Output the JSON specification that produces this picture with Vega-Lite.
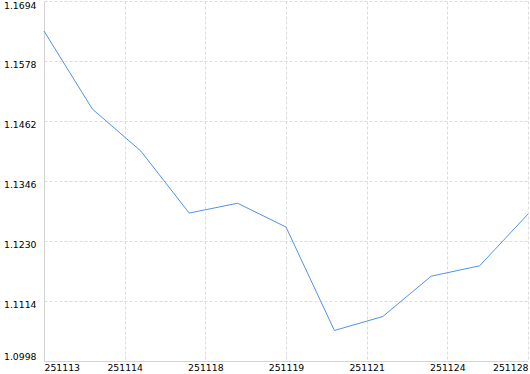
{
  "$schema": "https://vega.github.io/schema/vega-lite/v6.json",
  "autosize": "none",
  "width": 484,
  "height": 360,
  "padding": {"left": 44, "top": 1, "right": 2, "bottom": 13},
  "background": "white",
  "config": {"view": {"stroke": null}},
  "data": {"values": [
    {"i": 0, "v": 1.1636},
    {"i": 1, "v": 1.1485},
    {"i": 2, "v": 1.1404},
    {"i": 3, "v": 1.1284},
    {"i": 4, "v": 1.1303},
    {"i": 5, "v": 1.1257},
    {"i": 6, "v": 1.1057},
    {"i": 7, "v": 1.1084},
    {"i": 8, "v": 1.1162},
    {"i": 9, "v": 1.1182},
    {"i": 10, "v": 1.1282}
  ]},
  "mark": {"type": "line", "color": "#5092ec", "strokeWidth": 1},
  "encoding": {
    "x": {
      "field": "i", "type": "quantitative",
      "scale": {"domain": [0, 10], "nice": false, "zero": false},
      "axis": {
        "title": null,
        "values": [0, 1.6667, 3.3333, 5, 6.6667, 8.3333, 10],
        "labelExpr": "['251113','251114','251118','251119','251121','251124','251128'][round(datum.value*0.6)]",
        "labelFlush": true,
        "labelFont": "DejaVu Sans", "labelFontSize": 9.3, "labelColor": "#000000",
        "labelPadding": 2,
        "ticks": false,
        "domainColor": "#d4d4d4",
        "grid": true, "gridColor": "#dcdcdc", "gridDash": [3, 2], "gridWidth": 1
      }
    },
    "y": {
      "field": "v", "type": "quantitative",
      "scale": {"domain": [1.0998, 1.1694], "nice": false, "zero": false},
      "axis": {
        "title": null,
        "values": [1.0998, 1.1114, 1.123, 1.1346, 1.1462, 1.1578, 1.1694],
        "format": ".4f",
        "labelFlush": true,
        "labelFont": "DejaVu Sans", "labelFontSize": 9.3, "labelColor": "#000000",
        "labelPadding": 8,
        "labelOffset": {"condition": {"test": "datum.value > 1.1 && datum.value < 1.169", "value": 3}, "value": 0},
        "ticks": false,
        "domainColor": "#d4d4d4",
        "grid": true, "gridColor": "#dcdcdc", "gridDash": [3, 2], "gridWidth": 1
      }
    }
  }
}
